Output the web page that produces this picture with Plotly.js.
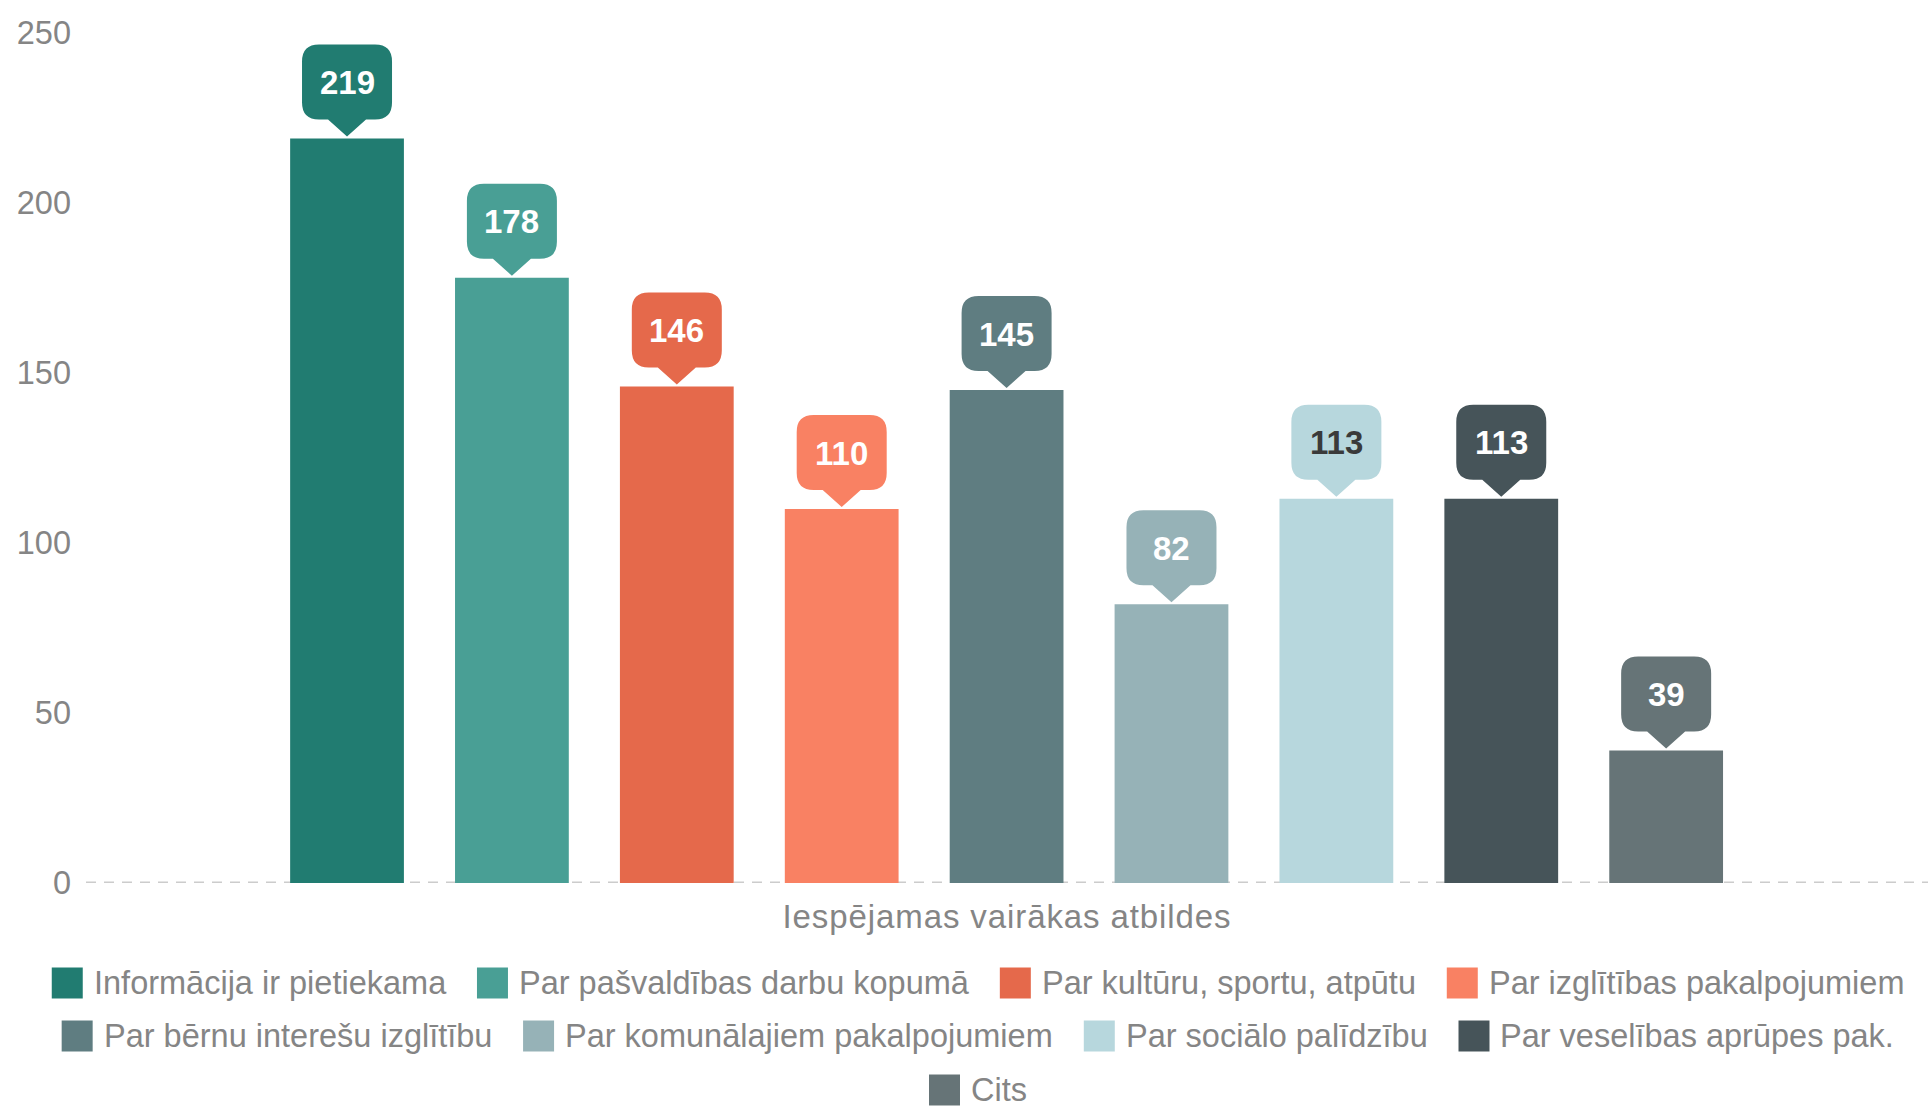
<!DOCTYPE html>
<html>
<head>
<meta charset="utf-8">
<script src="https://cdn.plot.ly/plotly-3.0.1.min.js"></script>
<style>
  html, body { margin: 0; padding: 0; background: #ffffff; }
  #chart { width: 1930px; height: 1107px; }
  #chart .xtitle { letter-spacing: 0.9px; }
</style>
</head>
<body>
<div id="chart"></div>
<script>
// ---- Data ----
const categories = [
  "Informācija ir pietiekama",
  "Par pašvaldības darbu kopumā",
  "Par kultūru, sportu, atpūtu",
  "Par izglītības pakalpojumiem",
  "Par bērnu interešu izglītību",
  "Par komunālajiem pakalpojumiem",
  "Par sociālo palīdzību",
  "Par veselības aprūpes pak.",
  "Cits"
];
const values = [219, 178, 146, 110, 145, 82, 113, 113, 39];
const barColors = ["#217c71", "#499f95", "#e5694b", "#f98163", "#5f7d81", "#96b2b7", "#b7d7dd", "#465459", "#667477"];
const labelColors = ["#ffffff", "#ffffff", "#ffffff", "#ffffff", "#ffffff", "#ffffff", "#3a3a3a", "#ffffff", "#ffffff"];
const xTitle = "Iespējamas vairākas atbildes";
const yTicks = [0, 50, 100, 150, 200, 250];

// ---- Layout constants ----
const W = 1930, H = 1107;
const M = { l: 86, r: 2, t: 33, b: 224 };
const PW = W - M.l - M.r, PH = H - M.t - M.b;
const FONT = '"Liberation Sans", Arial, sans-serif';
const FS = 32.5;
const GRAY = "#858585";

const traces = categories.map((name, i) => ({
  type: "bar",
  x: [i],
  y: [values[i]],
  name: name,
  width: 0.69,
  marker: { color: barColors[i], line: { width: 0 } },
  hoverinfo: "name+y",
  showlegend: false
}));

// callout shapes + labels
const shapes = [];
const annotations = [];
const calloutPath = "M0,2 L19,19 L28,19 Q45,19 45,36 L45,77 Q45,94 28,94 L-28,94 Q-45,94 -45,77 L-45,36 Q-45,19 -28,19 L-19,19 Z";
values.forEach((v, i) => {
  shapes.push({
    type: "path", xref: "x", yref: "y",
    xsizemode: "pixel", ysizemode: "pixel",
    xanchor: i, yanchor: v,
    path: calloutPath,
    fillcolor: barColors[i], line: { width: 0 }, layer: "above"
  });
  annotations.push({
    x: i, y: v, xref: "x", yref: "y",
    yshift: 56, showarrow: false,
    text: "<b>" + String(v) + "</b>",
    font: { family: FONT, size: 33, color: labelColors[i] },
    xanchor: "center", yanchor: "middle"
  });
});

// dashed baseline
shapes.push({
  type: "line", xref: "paper", yref: "y", x0: 0, x1: 1, y0: 0, y1: 0,
  line: { color: "#cccccc", width: 3, dash: "10px,8px" }, layer: "below"
});

// ---- custom legend (large swatches as in reference) ----
const ctx = document.createElement("canvas").getContext("2d");
ctx.font = FS + "px " + FONT;
const rows = [[0, 1, 2, 3], [4, 5, 6, 7], [8]];
const rowY = [983, 1036, 1090];
const SW = 31, SWGAP = 11, ITEMGAP = 31, LEG_CX = 978;
const px2x = px => (px - M.l) / PW;
const py2y = py => (M.t + PH - py) / PH;
rows.forEach((row, r) => {
  const widths = row.map(i => ctx.measureText(categories[i]).width);
  const total = widths.reduce((a, w) => a + SW + SWGAP + w, 0) + ITEMGAP * (row.length - 1);
  let x = LEG_CX - total / 2;
  const cy = rowY[r];
  row.forEach((i, k) => {
    shapes.push({
      type: "rect", xref: "paper", yref: "paper",
      x0: px2x(x), x1: px2x(x + SW), y0: py2y(cy + SW / 2), y1: py2y(cy - SW / 2),
      fillcolor: barColors[i], line: { width: 0 }
    });
    annotations.push({
      xref: "paper", yref: "paper",
      x: px2x(x + SW + SWGAP - 2), y: py2y(cy),
      xanchor: "left", yanchor: "middle", showarrow: false,
      text: categories[i],
      font: { family: FONT, size: FS, color: GRAY }
    });
    x += SW + SWGAP + widths[k] + ITEMGAP;
  });
});

const layout = {
  width: W, height: H,
  margin: M,
  paper_bgcolor: "#ffffff", plot_bgcolor: "#ffffff",
  font: { family: FONT, size: FS, color: GRAY },
  showlegend: false,
  barmode: "overlay",
  xaxis: {
    range: [-1.583, 9.588],
    showticklabels: false, showgrid: false, zeroline: false, showline: false, ticks: "",
    title: { text: xTitle, font: { family: FONT, size: 33, color: GRAY }, standoff: 21 },
    fixedrange: true
  },
  yaxis: {
    range: [0, 250],
    tickvals: yTicks,
    ticktext: yTicks.map(String),
    showgrid: false, zeroline: false, showline: false, ticks: "",
    ticklabelstandoff: 14,
    tickfont: { family: FONT, size: FS, color: GRAY },
    fixedrange: true
  },
  shapes: shapes,
  annotations: annotations
};

Plotly.newPlot("chart", traces, layout, { displayModeBar: false, staticPlot: true });
</script>
</body>
</html>
